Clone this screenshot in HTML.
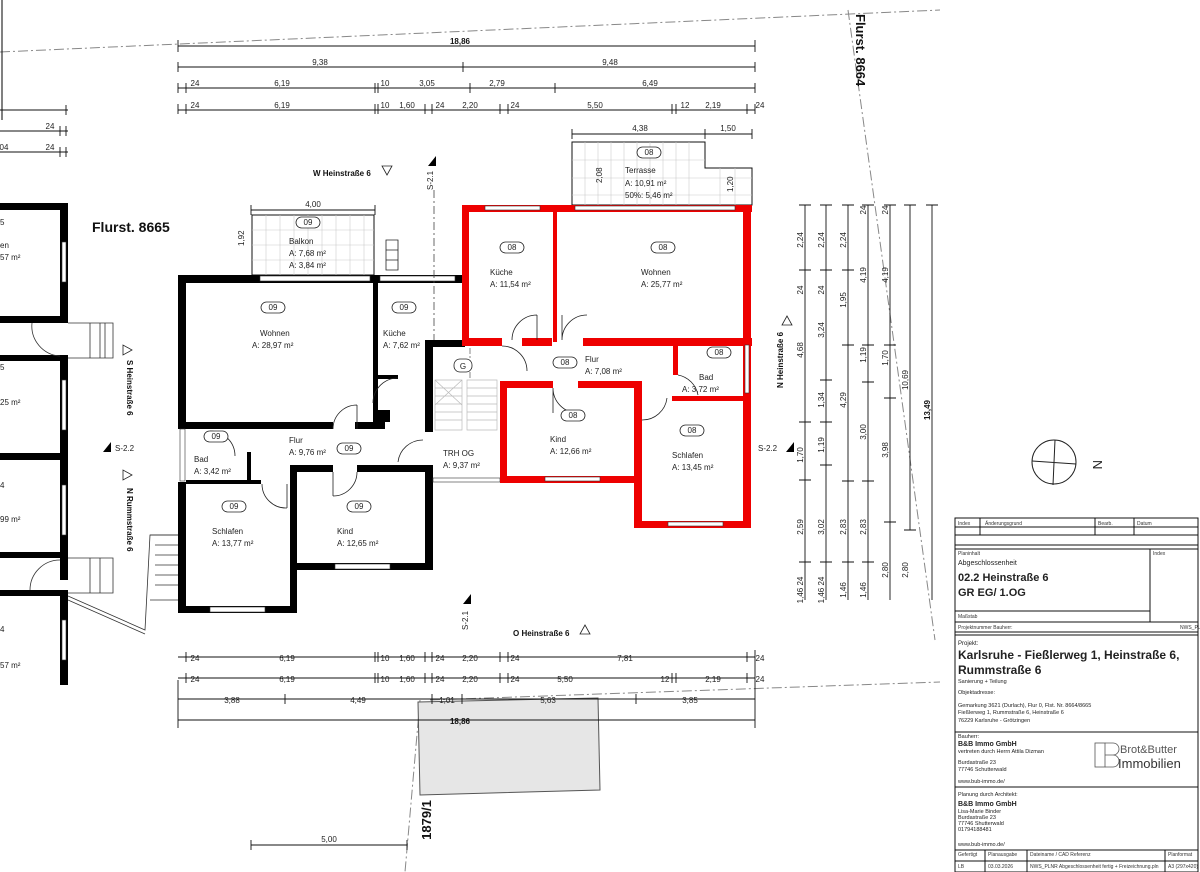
<!DOCTYPE html>
<html><head><meta charset="utf-8"><style>
html,body{margin:0;padding:0;background:#fff;}
svg{display:block;font-family:"Liberation Sans",sans-serif;}
.d{font-size:8px;fill:#222;}
.l{font-size:8px;fill:#222;}
.b{font-size:8px;font-weight:bold;fill:#111;}
</style></head><body>
<svg width="1200" height="872" viewBox="0 0 1200 872" xmlns="http://www.w3.org/2000/svg">
<rect width="1200" height="872" fill="#fff"/>
<g stroke="#888" stroke-width="1" fill="none" stroke-dasharray="10,3,2,3">
<line x1="0" y1="52" x2="940" y2="10"/>
<line x1="848" y1="10" x2="935" y2="640"/>
<line x1="430" y1="700" x2="940" y2="682"/>
<line x1="420" y1="700" x2="405" y2="872"/>
</g>
<polygon points="418,702 598,698 600,790 420,795" fill="#e6e6e6" stroke="#555" stroke-width="1"/>
<line x1="2" y1="0" x2="2" y2="120" stroke="#000" stroke-width="1"/>
<g stroke="#111" stroke-width="0.9">
<line x1="178" y1="46" x2="755" y2="46"/><line x1="178" y1="40" x2="178" y2="52"/><line x1="755" y1="40" x2="755" y2="52"/>
<line x1="178" y1="67" x2="755" y2="67"/>
<line x1="178" y1="88" x2="755" y2="88"/>
<line x1="178" y1="110" x2="755" y2="110"/>
<line x1="0" y1="110" x2="68" y2="110"/><line x1="0" y1="131" x2="68" y2="131"/><line x1="0" y1="152" x2="68" y2="152"/>
<line x1="178" y1="680" x2="178" y2="728"/><line x1="755" y1="650" x2="755" y2="728"/>
<line x1="178" y1="657" x2="755" y2="657"/>
<line x1="178" y1="678" x2="755" y2="678"/>
<line x1="178" y1="699" x2="755" y2="699"/>
<line x1="178" y1="720" x2="755" y2="720"/>
<line x1="251" y1="845" x2="407" y2="845"/>
<line x1="572" y1="134" x2="752" y2="134"/>
<line x1="251" y1="210" x2="375" y2="210"/>
</g>
<g stroke="#111" stroke-width="0.9">
<path d="M178,62v10M463,62v10M755,62v10 M178,83v10M186,83v10M375,83v10M378,83v10M470,83v10M555,83v10M755,83v10 M178,104v10M186,104v10M375,104v10M378,104v10M425,104v10M432,104v10M500,104v10M508,104v10M672,104v10M676,104v10M747,104v10M755,104v10 M66,105v10M60,126v10M66,126v10M60,147v10M66,147v10 M186,652v10M375,652v10M378,652v10M425,652v10M432,652v10M500,652v10M508,652v10M747,652v10 M186,673v10M375,673v10M378,673v10M425,673v10M432,673v10M500,673v10M508,673v10M672,673v10M676,673v10M747,673v10 M285,694v10M432,694v10M462,694v10M636,694v10 M251,840v10M407,840v10 M572,129v10M705,129v10M752,129v10 M251,205v10M375,205v10"/>
</g>
<g class="d" text-anchor="middle">
<text x="460" y="44" class="b">18,86</text>
<text x="320" y="65">9,38</text><text x="610" y="65">9,48</text>
<text x="195" y="86">24</text><text x="282" y="86">6,19</text><text x="385" y="86">10</text><text x="427" y="86">3,05</text><text x="497" y="86">2,79</text><text x="650" y="86">6,49</text>
<text x="195" y="108">24</text><text x="282" y="108">6,19</text><text x="385" y="108">10</text><text x="407" y="108">1,60</text><text x="440" y="108">24</text><text x="470" y="108">2,20</text><text x="515" y="108">24</text><text x="595" y="108">5,50</text><text x="685" y="108">12</text><text x="713" y="108">2,19</text><text x="760" y="108">24</text>
<text x="50" y="129">24</text><text x="4" y="150">04</text><text x="50" y="150">24</text>
<text x="640" y="131">4,38</text><text x="728" y="131">1,50</text>
<text x="313" y="207">4,00</text>
<text x="195" y="661">24</text><text x="287" y="661">6,19</text><text x="385" y="661">10</text><text x="407" y="661">1,60</text><text x="440" y="661">24</text><text x="470" y="661">2,20</text><text x="515" y="661">24</text><text x="625" y="661">7,81</text><text x="760" y="661">24</text>
<text x="195" y="682">24</text><text x="287" y="682">6,19</text><text x="385" y="682">10</text><text x="407" y="682">1,60</text><text x="440" y="682">24</text><text x="470" y="682">2,20</text><text x="515" y="682">24</text><text x="565" y="682">5,50</text><text x="665" y="682">12</text><text x="713" y="682">2,19</text><text x="760" y="682">24</text>
<text x="232" y="703">3,88</text><text x="358" y="703">4,49</text><text x="447" y="703">1,01</text><text x="548" y="703">5,63</text><text x="690" y="703">3,85</text>
<text x="460" y="724" class="b">18,86</text>
<text x="329" y="842">5,00</text>
</g>
<g stroke="#111" stroke-width="0.9">
<line x1="805" y1="205" x2="805" y2="600"/><line x1="826" y1="205" x2="826" y2="600"/><line x1="848" y1="205" x2="848" y2="600"/><line x1="868" y1="205" x2="868" y2="600"/><line x1="890" y1="205" x2="890" y2="600"/><line x1="910" y1="205" x2="910" y2="530"/><line x1="932" y1="205" x2="932" y2="600"/>
<path d="M799,205h12M820,205h12M842,205h12M862,205h12M884,205h12M904,205h12M926,205h12 M799,270h12M820,270h12M842,270h12M799,422h12M820,422h12M842,345h12M862,345h12M884,345h12 M799,480h12M820,465h12M842,481h12M862,481h12M884,522h12M904,530h12 M799,562h12M820,562h12M842,562h12M862,562h12 M820,380h12M862,382h12M884,398h12"/>
</g>
<g class="d" text-anchor="middle">
<text transform="translate(803,240) rotate(-90)">2,24</text><text transform="translate(824,240) rotate(-90)">2,24</text><text transform="translate(846,240) rotate(-90)">2,24</text>
<text transform="translate(866,210) rotate(-90)">24</text><text transform="translate(888,210) rotate(-90)">24</text>
<text transform="translate(866,275) rotate(-90)">4,19</text><text transform="translate(888,275) rotate(-90)">4,19</text>
<text transform="translate(803,290) rotate(-90)">24</text><text transform="translate(824,290) rotate(-90)">24</text><text transform="translate(846,300) rotate(-90)">1,95</text>
<text transform="translate(803,350) rotate(-90)">4,68</text><text transform="translate(824,330) rotate(-90)">3,24</text><text transform="translate(866,355) rotate(-90)">1,19</text><text transform="translate(888,358) rotate(-90)">1,70</text>
<text transform="translate(908,380) rotate(-90)">10,69</text><text transform="translate(930,410) rotate(-90)" class="b">13,49</text>
<text transform="translate(846,400) rotate(-90)">4,29</text><text transform="translate(824,400) rotate(-90)">1,34</text><text transform="translate(866,432) rotate(-90)">3,00</text><text transform="translate(888,450) rotate(-90)">3,98</text>
<text transform="translate(803,455) rotate(-90)">1,70</text><text transform="translate(824,445) rotate(-90)">1,19</text>
<text transform="translate(803,527) rotate(-90)">2,59</text><text transform="translate(824,527) rotate(-90)">3,02</text><text transform="translate(846,527) rotate(-90)">2,83</text><text transform="translate(866,527) rotate(-90)">2,83</text>
<text transform="translate(888,570) rotate(-90)">2,80</text><text transform="translate(908,570) rotate(-90)">2,80</text>
<text transform="translate(803,590) rotate(-90)">1,46 24</text><text transform="translate(824,590) rotate(-90)">1,46 24</text><text transform="translate(846,590) rotate(-90)">1,46</text><text transform="translate(866,590) rotate(-90)">1,46</text>
</g>
<text transform="translate(856,14) rotate(90)" style="font-size:13px;font-weight:bold;fill:#111">Flurst. 8664</text>
<text x="92" y="232" style="font-size:14px;font-weight:bold;fill:#111">Flurst. 8665</text>
<text transform="translate(431,820) rotate(-90)" text-anchor="middle" style="font-size:13px;font-weight:bold;fill:#111">1879/1</text>
<g fill="#fff" stroke="#111" stroke-width="1">
<polygon points="572,142 705,142 705,168 752,168 752,205 572,205"/>
<rect x="252" y="215" width="122" height="60"/>
</g>
<g stroke="#ccc" stroke-width="0.6">
<path d="M585,142v63M598,142v63M611,142v63M624,142v63M637,142v63M650,142v63M663,142v63M676,142v63M689,142v63M720,168v37M735,168v37 M572,160h133M572,178h180M572,195h180"/>
<path d="M266,215v60M280,215v60M294,215v60M308,215v60M322,215v60M336,215v60M350,215v60M364,215v60 M252,230h122M252,245h122M252,260h122"/>
</g>
<g fill="#000">
<rect x="0" y="203" width="68" height="7"/><rect x="60" y="203" width="8" height="120"/><rect x="0" y="316" width="68" height="7"/>
<rect x="0" y="355" width="68" height="6"/><rect x="60" y="355" width="8" height="225"/><rect x="0" y="453" width="68" height="7"/><rect x="0" y="552" width="68" height="6"/>
<rect x="0" y="590" width="68" height="6"/><rect x="60" y="590" width="8" height="95"/>
</g>
<g fill="#fff" stroke="#333" stroke-width="0.6"><rect x="62" y="242" width="4" height="40"/><rect x="62" y="380" width="4" height="50"/><rect x="62" y="485" width="4" height="50"/><rect x="62" y="620" width="4" height="40"/></g>
<g class="l">
<text x="0" y="225">5</text><text x="0" y="248">en</text><text x="0" y="260">57 m²</text>
<text x="0" y="370">5</text><text x="0" y="405">25 m²</text>
<text x="0" y="488">4</text><text x="0" y="522">99 m²</text>
<text x="0" y="632">4</text><text x="0" y="668">57 m²</text>
</g>
<g fill="none" stroke="#333" stroke-width="0.8">
<path d="M68,323h45v35h-45 M90,323v35M100,323v35M105,323v35M68,558h45v35h-45M90,558v35M100,558v35"/>
<path d="M32,323 A30,30 0 0 0 60,356 M30,590 A30,30 0 0 1 60,560"/>
<path d="M68,596 L145,630 L150,535 L180,535 M68,600 L145,634"/>
<path d="M150,535h30v65h-30 M155,545h25M155,555h25M155,565h25M155,575h25M155,585h25"/>
</g>
<g fill="#000">
<rect x="178" y="275" width="284" height="8"/>
<rect x="178" y="275" width="8" height="153"/>
<rect x="178" y="482" width="8" height="131"/>
<rect x="178" y="422" width="155" height="7"/><rect x="355" y="422" width="30" height="7"/>
<rect x="373" y="283" width="5" height="140"/><rect x="378" y="410" width="12" height="12"/>
<rect x="373" y="375" width="25" height="4"/>
<rect x="425" y="340" width="8" height="92"/><rect x="425" y="340" width="40" height="7"/>
<rect x="425" y="465" width="8" height="105"/>
<rect x="290" y="465" width="43" height="7"/><rect x="357" y="465" width="75" height="7"/>
<rect x="290" y="465" width="7" height="148"/>
<rect x="297" y="563" width="135" height="7"/>
<rect x="178" y="606" width="119" height="7"/>
<rect x="247" y="452" width="4" height="32"/><rect x="186" y="480" width="75" height="4"/>
</g>
<g fill="#fff" stroke="#333" stroke-width="0.6">
<rect x="180" y="429" width="5" height="52"/><rect x="210" y="607" width="55" height="5"/><rect x="335" y="564" width="55" height="5"/><rect x="260" y="276" width="110" height="5"/><rect x="380" y="276" width="75" height="5"/><rect x="433" y="478" width="67" height="4"/>
</g>
<g fill="#ee0000">
<rect x="462" y="205" width="290" height="7"/>
<rect x="462" y="205" width="7" height="140"/>
<rect x="462" y="338" width="40" height="8"/><rect x="522" y="338" width="30" height="8"/><rect x="583" y="338" width="169" height="8"/>
<rect x="553" y="212" width="4" height="130"/>
<rect x="743" y="205" width="8" height="323"/>
<rect x="500" y="381" width="53" height="7"/><rect x="578" y="381" width="64" height="7"/>
<rect x="500" y="381" width="7" height="102"/>
<rect x="500" y="476" width="142" height="7"/>
<rect x="634" y="381" width="8" height="147"/>
<rect x="673" y="345" width="5" height="30"/><rect x="672" y="396" width="78" height="5"/>
<rect x="634" y="521" width="117" height="7"/>
</g>
<g fill="#fff" stroke="#333" stroke-width="0.6">
<rect x="485" y="206" width="55" height="4"/><rect x="575" y="206" width="160" height="4"/><rect x="745" y="345" width="4" height="48"/><rect x="545" y="477" width="55" height="4"/><rect x="668" y="522" width="55" height="4"/>
</g>
<g stroke="#bbb" stroke-width="0.7" fill="none">
<path d="M435,380h27v50h-27z M467,380h30v50h-30z M435,388h27M435,396h27M435,404h27M435,412h27M435,420h27 M467,388h30M467,396h30M467,404h30M467,412h30M467,420h30 M435,380l27,25M435,405l27,-25"/>
<line x1="470" y1="348" x2="470" y2="378" stroke-dasharray="6,2,2,2" stroke="#555"/>
</g>
<g fill="none" stroke="#222" stroke-width="0.8">
<path d="M333,429 A24,24 0 0 1 357,405 M357,405v24"/>
<path d="M357,472 A24,24 0 0 1 333,496 M333,472v24"/>
<path d="M262,484 A24,24 0 0 0 287,508 M287,484v24"/>
<path d="M210,431 A25,25 0 0 1 235,456"/>
<path d="M398,378 A25,25 0 0 0 373,403"/>
<path d="M398,462 A25,25 0 0 1 423,440"/>
<path d="M502,346 A25,25 0 0 1 527,371"/>
<path d="M512,340 A25,25 0 0 1 537,315 M537,315v25"/>
<path d="M562,340 A25,25 0 0 1 587,315 M562,315v25"/>
<path d="M553,388 A25,25 0 0 0 578,413 M553,388v25"/>
<path d="M642,420 A25,25 0 0 0 667,398"/>
<path d="M678,375 A25,25 0 0 1 698,395"/>
<path d="M386,240h12v30h-12z M386,250h12M386,260h12"/>
</g>
<g fill="#fff" stroke="#222" stroke-width="0.8">
<rect x="296" y="217" width="24" height="11" rx="5.5"/>
<rect x="261" y="302" width="24" height="11" rx="5.5"/><rect x="392" y="302" width="24" height="11" rx="5.5"/>
<rect x="204" y="431" width="24" height="11" rx="5.5"/><rect x="337" y="443" width="24" height="11" rx="5.5"/>
<rect x="222" y="501" width="24" height="11" rx="5.5"/><rect x="347" y="501" width="24" height="11" rx="5.5"/>
<rect x="500" y="242" width="24" height="11" rx="5.5"/><rect x="651" y="242" width="24" height="11" rx="5.5"/>
<rect x="637" y="147" width="24" height="11" rx="5.5"/>
<rect x="553" y="357" width="24" height="11" rx="5.5"/><rect x="707" y="347" width="24" height="11" rx="5.5"/>
<rect x="561" y="410" width="24" height="11" rx="5.5"/><rect x="680" y="425" width="24" height="11" rx="5.5"/>
<rect x="454" y="359" width="18" height="13" rx="6"/>
</g>
<g class="l" text-anchor="middle">
<text x="308" y="225">09</text><text x="273" y="310">09</text><text x="404" y="310">09</text><text x="216" y="439">09</text><text x="349" y="451">09</text><text x="234" y="509">09</text><text x="359" y="509">09</text>
<text x="512" y="250">08</text><text x="663" y="250">08</text><text x="649" y="155">08</text><text x="565" y="365">08</text><text x="719" y="355">08</text><text x="573" y="418">08</text><text x="692" y="433">08</text><text x="463" y="369">G</text>
</g>
<g class="l">
<text x="289" y="244">Balkon</text><text x="289" y="256">A: 7,68 m²</text><text x="289" y="268">A: 3,84 m²</text>
<text x="260" y="336">Wohnen</text><text x="252" y="348">A: 28,97 m²</text>
<text x="383" y="336">Küche</text><text x="383" y="348">A: 7,62 m²</text>
<text x="194" y="462">Bad</text><text x="194" y="474">A: 3,42 m²</text>
<text x="289" y="443">Flur</text><text x="289" y="455">A: 9,76 m²</text>
<text x="212" y="534">Schlafen</text><text x="212" y="546">A: 13,77 m²</text>
<text x="337" y="534">Kind</text><text x="337" y="546">A: 12,65 m²</text>
<text x="443" y="456">TRH OG</text><text x="443" y="468">A: 9,37 m²</text>
<text x="490" y="275">Küche</text><text x="490" y="287">A: 11,54 m²</text>
<text x="641" y="275">Wohnen</text><text x="641" y="287">A: 25,77 m²</text>
<text x="625" y="173">Terrasse</text><text x="625" y="186">A:   10,91 m²</text><text x="625" y="198">50%: 5,46 m²</text>
<text x="585" y="362">Flur</text><text x="585" y="374">A: 7,08 m²</text>
<text x="699" y="380">Bad</text><text x="682" y="392">A: 3,72 m²</text>
<text x="550" y="442">Kind</text><text x="550" y="454">A: 12,66 m²</text>
<text x="672" y="458">Schlafen</text><text x="672" y="470">A: 13,45 m²</text>
</g>
<g class="d">
<text transform="translate(244,246) rotate(-90)">1,92</text>
<text transform="translate(602,183) rotate(-90)">2,08</text>
<text transform="translate(733,192) rotate(-90)">1,20</text>
</g>
<g class="b" font-size="8">
<text x="313" y="176">W Heinstraße 6</text><text x="513" y="636">O Heinstraße 6</text>
<text transform="translate(127,360) rotate(90)">S Heinstraße 6</text>
<text transform="translate(127,488) rotate(90)">N Rummstraße 6</text>
<text transform="translate(783,388) rotate(-90)">N Heinstraße 6</text>
</g>
<g fill="none" stroke="#222" stroke-width="0.8">
<path d="M382,166h10l-5,9z M580,634h10l-5,-9z M123,345v10l9,-5z M123,470v10l9,-5z M782,325h10l-5,-9z"/>
</g>
<g fill="#000"><path d="M428,166l8,-10v10z M463,604l8,-10v10z M103,452l8,-10v10z M786,452l8,-10v10z"/></g>
<g class="d"><text transform="translate(433,190) rotate(-90)">S-2.1</text><text transform="translate(468,630) rotate(-90)">S-2.1</text><text x="115" y="451">S-2.2</text><text x="758" y="451">S-2.2</text></g>
<line x1="434" y1="190" x2="434" y2="340" stroke="#444" stroke-dasharray="8,3,2,3" stroke-width="0.8"/>
<circle cx="1054" cy="462" r="22" fill="none" stroke="#222" stroke-width="1"/>
<path d="M1055,440 L1053,485 M1032,461 L1076,464" stroke="#222" stroke-width="1"/>
<text transform="translate(1093,460) rotate(90)" style="font-size:13px;fill:#222">N</text>
<g fill="none" stroke="#111" stroke-width="1">
<rect x="955" y="518" width="243" height="354"/>
<path d="M955,527h243M980,518v17M1095,518v17M1134,518v17M955,535h243 M955,545h243"/>
<rect x="955" y="549" width="243" height="73"/><path d="M1150,549v73M955,611h195M955,622h243M955,632h243M955,635h243 M955,732h243M955,787h243M955,850h243M955,861h243 M985,850v22M1027,850v22M1165,850v22"/>
</g>
<g style="font-size:5px;fill:#333">
<text x="958" y="525">Index</text><text x="985" y="525">Änderungsgrund</text><text x="1098" y="525">Bearb.</text><text x="1137" y="525">Datum</text>
<text x="958" y="555">Planinhalt</text><text x="1153" y="555">Index</text><text x="958" y="618">Maßstab</text><text x="958" y="629">Projektnummer Bauherr:</text><text x="1180" y="629">NWS_PLNR</text>
<text x="958" y="856">Gefertigt</text><text x="988" y="856">Planausgabe</text><text x="1030" y="856">Dateiname / CAD Referenz</text><text x="1168" y="856">Planformat</text>
<text x="958" y="868">LB</text><text x="988" y="868">03.03.2026</text><text x="1030" y="868">NWS_PLNR Abgeschlossenheit fertig + Freizeichnung.pln</text><text x="1168" y="868">A3 (297x420)</text>
</g>
<g fill="#222">
<text x="958" y="565" style="font-size:7px">Abgeschlossenheit</text>
<text x="958" y="581" style="font-size:11px;font-weight:bold">02.2 Heinstraße 6</text>
<text x="958" y="596" style="font-size:11px;font-weight:bold">GR EG/ 1.OG</text>
<text x="958" y="645" style="font-size:6px">Projekt:</text>
<text x="958" y="659" style="font-size:12px;font-weight:bold">Karlsruhe - Fießlerweg 1, Heinstraße 6,</text>
<text x="958" y="674" style="font-size:12px;font-weight:bold">Rummstraße 6</text>
<text x="958" y="683" style="font-size:5.5px">Sanierung + Teilung</text>
<text x="958" y="694" style="font-size:5.5px">Objektadresse:</text>
<text x="958" y="707" style="font-size:5.5px">Gemarkung 3621 (Durlach), Flur 0, Flst. Nr. 8664/8665</text>
<text x="958" y="714" style="font-size:5.5px">Fießlerweg 1, Rummstraße 6, Heinstraße 6</text>
<text x="958" y="722" style="font-size:5.5px">76229 Karlsruhe - Grötzingen</text>
<text x="958" y="738" style="font-size:5.5px">Bauherr:</text>
<text x="958" y="746" style="font-size:7px;font-weight:bold">B&amp;B Immo GmbH</text>
<text x="958" y="753" style="font-size:5.5px">vertreten durch Herrn Attila Dizman</text>
<text x="958" y="764" style="font-size:5.5px">Burdastraße 23</text><text x="958" y="771" style="font-size:5.5px">77746 Schutterwald</text>
<text x="958" y="783" style="font-size:5.5px">www.bub-immo.de/</text>
<text x="958" y="796" style="font-size:5.5px">Planung durch Architekt:</text>
<text x="958" y="806" style="font-size:7px;font-weight:bold">B&amp;B Immo GmbH</text>
<text x="958" y="813" style="font-size:5.5px">Lisa-Marie Binder</text><text x="958" y="819" style="font-size:5.5px">Burdastraße 23</text><text x="958" y="825" style="font-size:5.5px">77746 Shutterwald</text><text x="958" y="831" style="font-size:5.5px">01794188481</text>
<text x="958" y="846" style="font-size:5.5px">www.bub-immo.de/</text>
</g>
<g fill="none" stroke="#555" stroke-width="0.8"><rect x="1095" y="743" width="10" height="24"/><path d="M1105,743h8a6,6 0 0 1 0,12h-8M1105,755h8a6,6 0 0 1 0,12h-8"/></g>
<text x="1120" y="753" style="font-size:11px;fill:#555">Brot&amp;Butter</text>
<text x="1118" y="768" style="font-size:13px;fill:#333">Immobilien</text>
</svg>
</body></html>
